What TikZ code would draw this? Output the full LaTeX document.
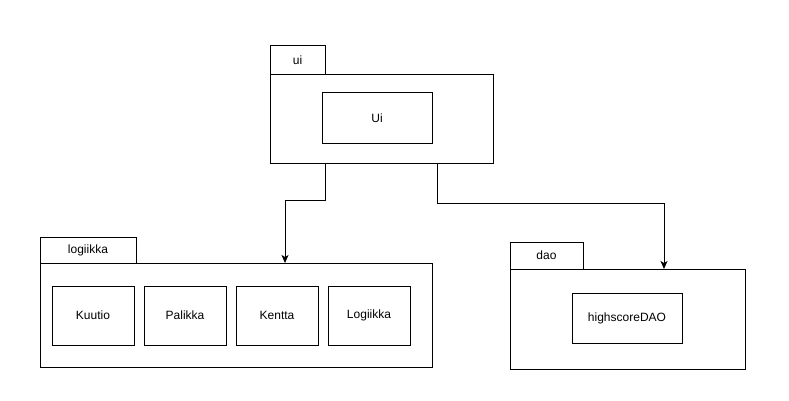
\documentclass[tikz,border=0pt]{standalone}
\usepackage{fontspec}
\setmainfont{Liberation Sans}
\usetikzlibrary{arrows.meta,positioning,calc}
\tikzset{
  pkgtab/.style={draw=black, line width=1pt, fill=white, anchor=north west,
                 inner sep=0pt, outer sep=0pt, font=\fontsize{12}{14}\selectfont},
  pkgbody/.style={draw=black, line width=1pt, fill=white, anchor=north west,
                  inner sep=0pt, outer sep=0pt},
  cls/.style={draw=black, line width=1pt, inner sep=0pt, outer sep=0pt,
              minimum width=82pt, minimum height=59pt, font=\fontsize{12}{14}\selectfont},
  ar/.style={-{Stealth[length=8pt,width=7pt,inset=2pt]}, draw=black, line width=1pt},
}

\begin{document}
\begin{tikzpicture}[x=1pt, y=-1pt, node distance=10pt]
\useasboundingbox (0,0) rectangle (789,401);

% ui package
\node[pkgtab, minimum width=55pt, minimum height=29pt] (uitab) at (270,46) {ui};
\node[pkgbody, minimum width=223pt, minimum height=88pt] (uibody) at (270,75) {};
\node[cls, minimum width=110pt, minimum height=50pt] (ui) at (377,118) {Ui};

% logiikka package
\node[pkgtab, minimum width=96pt, minimum height=26pt] (logtab) at (40,237) {logiikka};
\node[pkgbody, minimum width=392pt, minimum height=104pt] (logbody) at (40,263) {};
\node[cls] (kuutio) at (93,315.5) {Kuutio};
\node[cls, right=of kuutio] (palikka) {Palikka};
\node[cls, right=of palikka] (kentta) {Kentta};
\node[cls, right=of kentta] (logiikka) {Logiikka};

% dao package
\node[pkgtab, minimum width=73pt, minimum height=27pt] (daotab) at (510,242) {dao};
\node[pkgbody, minimum width=235pt, minimum height=100pt] (daobody) at (510,269) {};
\node[cls, minimum width=110pt, minimum height=50pt] (hsdao) at (627,318) {highscoreDAO};

% dependencies
\coordinate (uil) at ([xshift=-56.5pt]uibody.south);
\coordinate (uir) at ([xshift=55.5pt]uibody.south);
\coordinate (login) at (logbody.north -| 285,0);
\coordinate (daoin) at (daobody.north -| 664,0);
\draw[ar] (uil) -- ++(0,37) -| (login);
\draw[ar] (uir) -- ++(0,40) -| (daoin);
\end{tikzpicture}
\end{document}
